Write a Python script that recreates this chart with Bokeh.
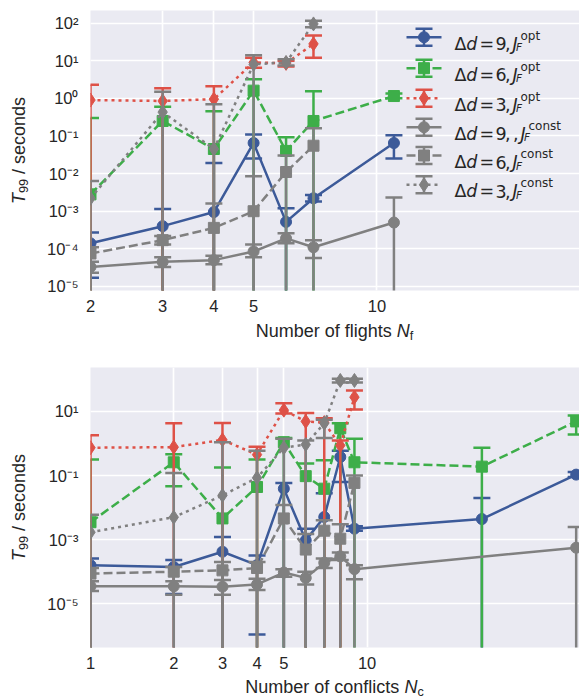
import numpy as np
from bokeh.plotting import figure
from bokeh.layouts import column, row
from bokeh.models import Range1d, LinearScale, FixedTicker, CustomJSTickFormatter, Div
from bokeh.core.properties import value
from bokeh.embed import file_html
from bokeh.resources import INLINE

# ---------------- data: T99 against number of flights ----------------
nf_opt9 = [2, 3, 4, 5, 6, 7, 11]
t_nf_opt9 = [1.4e-4, 4.0e-4, 9.5e-4, 0.065, 5.2e-4, 2.2e-3, 0.065]
hi_nf_opt9 = [2.7e-4, 1.15e-3, 0.019, 0.11, 1.2e-3, 2.7e-3, 0.105]
lo_nf_opt9 = [1.7e-5, 0, 0, 0.025, 0, 1.8e-3, 0.025]

nf_opt6 = [2, 3, 4, 5, 6, 7, 11]
t_nf_opt6 = [2.8e-3, 0.25, 0.045, 1.6, 0.04, 0.25, 1.15]
hi_nf_opt6 = [0.3, 0.6, 0.45, 3.2, 0.093, 1.55, 1.35]
lo_nf_opt6 = [0, 0, 0, 0, 0, 0, 1.0]

nf_opt3 = [2, 3, 4, 5, 6, 7]
t_nf_opt3 = [0.9, 0.85, 0.95, 9.0, 8.5, 28.0]
hi_nf_opt3 = [2.3, 1.85, 2.1, 12.0, 10.0, 47.0]
lo_nf_opt3 = [0, 0, 0, 6.5, 7.0, 12.0]

nf_c9 = [2, 3, 4, 5, 6, 7, 11]
t_nf_c9 = [3.3e-5, 4.5e-5, 5.0e-5, 8.5e-5, 1.9e-4, 1.1e-4, 5.0e-4]
hi_nf_c9 = [4.5e-5, 6.0e-5, 6.5e-5, 1.3e-4, 2.6e-4, 1.7e-4, 2.3e-3]
lo_nf_c9 = [2.3e-5, 3.3e-5, 3.9e-5, 6.0e-5, 1.4e-4, 5.7e-5, 0]

nf_c6 = [2, 3, 4, 5, 6, 7]
t_nf_c6 = [7.5e-5, 1.7e-4, 3.6e-4, 1.0e-3, 0.011, 0.055]
hi_nf_c6 = [1.1e-4, 2.2e-4, 1.6e-3, 8.5e-3, 0.03, 0.16]
lo_nf_c6 = [0, 1.3e-4, 0, 0, 0, 0]

nf_c3 = [2, 3, 4, 5, 6, 7]
t_nf_c3 = [2.2e-3, 0.43, 0.045, 8.0, 9.0, 95.0]
hi_nf_c3 = [6.3e-3, 1.5, 0.7, 14.0, 11.0, 115.0]
lo_nf_c3 = [0, 0, 0, 0, 7.5, 78.0]

# ---------------- data: T99 against number of conflicts ----------------
nc_opt9 = [1, 2, 3, 4, 5, 6, 7, 8, 9, 26, 57]
t_nc_opt9 = [1.6e-4, 1.4e-4, 4.2e-4, 1.6e-4, 0.039, 9.5e-4, 5.1e-3, 0.38, 2.2e-3, 4.4e-3, 0.107]
hi_nc_opt9 = [2.6e-4, 2.3e-4, 1.2e-3, 3.2e-4, 0.059, 2.2e-3, 0.028, 0.6, 2.6e-3, 0.02, 0.13]
lo_nc_opt9 = [0, 2.0e-5, 0, 1.1e-6, 0, 0, 0, 0.063, 1.9e-3, 0, 0.09]

nc_opt6 = [1, 2, 3, 4, 5, 6, 7, 8, 9, 26, 57]
t_nc_opt6 = [3.5e-3, 0.26, 4.6e-3, 0.044, 1.1, 0.096, 0.039, 3.0, 0.26, 0.19, 4.9]
hi_nc_opt6 = [0.32, 0.46, 0.18, 0.32, 1.5, 0.24, 0.3, 4.3, 1.4, 0.74, 7.5]
lo_nc_opt6 = [0, 0.046, 0, 0, 0, 0, 0, 0, 0, 0, 1.9]

nc_opt3 = [1, 2, 3, 4, 5, 6, 7, 8, 9]
t_nc_opt3 = [0.74, 0.77, 1.3, 0.45, 11.0, 4.9, 4.5, 0.87, 28.0]
hi_nc_opt3 = [1.8, 4.3, 4.4, 0.8, 18.0, 9.0, 6.2, 1.25, 45.0]
lo_nc_opt3 = [0, 0, 0, 0, 8.7, 0, 0, 0, 11.5]

nc_c9 = [1, 2, 3, 4, 5, 6, 7, 8, 9, 57]
t_nc_c9 = [3.5e-5, 3.5e-5, 3.4e-5, 4.0e-5, 9.4e-5, 6.4e-5, 1.9e-4, 3.0e-4, 1.2e-4, 5.6e-4]
hi_nc_c9 = [5.0e-5, 5.0e-5, 5.5e-5, 6.0e-5, 1.2e-4, 1.0e-4, 2.6e-4, 4.0e-4, 1.6e-4, 2.5e-3]
lo_nc_c9 = [2.5e-5, 1.9e-5, 1.9e-5, 2.7e-5, 7.0e-5, 4.0e-5, 1.3e-4, 2.3e-4, 5.8e-5, 0]

nc_c6 = [1, 2, 3, 4, 5, 6, 7, 8, 9]
t_nc_c6 = [8.7e-5, 1.0e-4, 1.1e-4, 1.3e-4, 4.6e-3, 4.9e-4, 1.9e-3, 1.07e-3, 0.059]
hi_nc_c6 = [1.3e-4, 1.4e-4, 2.0e-4, 2.0e-4, 0.012, 1.5e-3, 4.0e-3, 3.0e-3, 0.1]
lo_nc_c6 = [0, 0, 0, 0, 0, 0, 0, 0, 0]

nc_c3 = [1, 2, 3, 4, 5, 6, 7, 8, 9]
t_nc_c3 = [1.7e-3, 5.0e-3, 0.024, 0.085, 0.74, 0.93, 4.3, 93.0, 93.0]
hi_nc_c3 = [6.0e-3, 0.12, 1.1, 0.6, 1.4, 1.25, 5.5, 105.0, 105.0]
lo_nc_c3 = [0, 0, 0, 0, 0, 0, 1.5, 80.0, 80.0]

# axis ticks
nf_ticks = [2, 3, 4, 5, 10]
nf_t_ticks = [1e-5, 1e-4, 1e-3, 1e-2, 1e-1, 1e0, 1e1, 1e2]
nc_ticks = [1, 2, 3, 4, 5, 10]
nc_t_ticks = [1e-5, 1e-3, 1e-1, 1e1]

# legend text
legend_dd = ["9", "6", "3", "9", "6", "3"]
legend_sup = ["opt", "opt", "opt", "const", "const", "const"]
legend_extra_comma = [False, False, False, True, False, False]

# ---------------- styling ----------------
W = 579
YLAB_W = 40           # strip holding the rotated y label
FIG_W = W - YLAB_W
BORDER_L = 50
FRAME_W = FIG_W - BORDER_L
FRAME_H = 280
FIG_H = 10 + FRAME_H + 32
BG = "#EAEAF2"
INK = "#262626"
SANS = "Liberation Sans"
MATH = "DejaVu Sans"
BLUE, GREEN, RED, GRAY = "#3C5A99", "#3DAE49", "#DE5147", "#808080"
LW = 2.5
CAP = 17
DASHES = {"solid": "solid", "dashed": "9 4", "dotted": "3 4"}
MSIZE = {"circle": 11, "square": 11, "diamond": 14}

STYLES = [
    (BLUE, "circle", "solid"),
    (GREEN, "square", "dashed"),
    (RED, "diamond", "dotted"),
    (GRAY, "circle", "solid"),
    (GRAY, "square", "dashed"),
    (GRAY, "diamond", "dotted"),
]

top_series = [
    (nf_opt9, t_nf_opt9, hi_nf_opt9, lo_nf_opt9),
    (nf_opt6, t_nf_opt6, hi_nf_opt6, lo_nf_opt6),
    (nf_opt3, t_nf_opt3, hi_nf_opt3, lo_nf_opt3),
    (nf_c9, t_nf_c9, hi_nf_c9, lo_nf_c9),
    (nf_c6, t_nf_c6, hi_nf_c6, lo_nf_c6),
    (nf_c3, t_nf_c3, hi_nf_c3, lo_nf_c3),
]
bottom_series = [
    (nc_opt9, t_nc_opt9, hi_nc_opt9, lo_nc_opt9),
    (nc_opt6, t_nc_opt6, hi_nc_opt6, lo_nc_opt6),
    (nc_opt3, t_nc_opt3, hi_nc_opt3, lo_nc_opt3),
    (nc_c9, t_nc_c9, hi_nc_c9, lo_nc_c9),
    (nc_c6, t_nc_c6, hi_nc_c6, lo_nc_c6),
    (nc_c3, t_nc_c3, hi_nc_c3, lo_nc_c3),
]

pow10_fmt = CustomJSTickFormatter(code="""
const sup = {"-": "⁻", "0": "⁰", "1": "¹", "2": "²", "3": "³", "4": "⁴",
             "5": "⁵", "6": "⁶", "7": "⁷", "8": "⁸", "9": "⁹"};
const e = Math.round(Math.log10(tick));
return "10" + String(e).split("").map(c => sup[c]).join("");
""")
int_fmt = CustomJSTickFormatter(code="return String(Math.round(tick));")


def make_panel(xr, yr, xticks, yticks):
    p = figure(width=FIG_W, height=FIG_H, x_axis_type="log", y_axis_type="log",
               x_range=Range1d(*xr), y_range=Range1d(*yr),
               output_backend="svg", toolbar_location=None,
               min_border_left=BORDER_L, min_border_right=0, min_border_top=10,
               min_border_bottom=FIG_H - 10 - FRAME_H,
               background_fill_color=BG, border_fill_color="white",
               outline_line_color=None)
    p.xaxis.ticker = FixedTicker(ticks=xticks, minor_ticks=[])
    p.yaxis.ticker = FixedTicker(ticks=yticks, minor_ticks=[])
    p.xaxis.formatter = int_fmt
    p.yaxis.formatter = pow10_fmt
    for ax in p.axis:
        ax.axis_line_color = None
        ax.major_tick_line_color = None
        ax.minor_tick_line_color = None
        ax.major_tick_out = 0
        ax.major_tick_in = 0
        ax.minor_tick_out = 0
        ax.major_label_text_font = SANS
        ax.major_label_text_font_size = "16.5px"
        ax.major_label_text_color = INK
    p.xaxis.major_label_standoff = 9
    p.yaxis.major_label_standoff = 12
    p.grid.grid_line_color = "white"
    p.grid.grid_line_width = 1.7
    # frame-pixel coordinates for the legend
    p.extra_x_ranges = {"fx": Range1d(0, FRAME_W)}
    p.extra_y_ranges = {"fy": Range1d(0, FRAME_H)}
    p.extra_x_scales = {"fx": LinearScale()}
    p.extra_y_scales = {"fy": LinearScale()}
    return p


def draw_series(p, x, t, hi, lo, style, floor):
    color, marker, dash = style
    x = list(x)
    lo_bar = [l if l > 0 else floor for l in lo]
    p.segment(x0=x, y0=lo_bar, x1=x, y1=list(hi), line_color=color, line_width=LW)
    cap_x = x + [xi for xi, l in zip(x, lo) if l > 0]
    cap_y = list(hi) + [l for l in lo if l > 0]
    p.scatter(cap_x, cap_y, marker="dash", size=CAP, line_color=color, line_width=LW)
    p.line(x, list(t), line_color=color, line_width=LW, line_dash=DASHES[dash])
    p.scatter(x, list(t), marker=marker, size=MSIZE[marker], fill_color=color,
              line_color=color, line_width=1)


def y_label_div():
    html = (
        f'<div style="margin-top:10px; margin-left:10px; height:{FRAME_H}px; '
        f'writing-mode:vertical-rl; transform:rotate(180deg); text-align:center; '
        f'font-family:\'{SANS}\'; font-size:18px; line-height:18px; color:{INK}; '
        f'white-space:nowrap;">'
        '<i>T</i><sub style="font-size:12.6px; line-height:0;">99</sub> / seconds</div>'
    )
    return Div(text=html, width=YLAB_W, height=FIG_H, margin=0)


def x_label_div(main, sub, height, shift):
    html = (
        f'<div style="margin-left:{YLAB_W + BORDER_L}px; margin-top:{shift}px; '
        f'width:{FRAME_W}px; text-align:center; font-family:\'{SANS}\'; '
        f'font-size:18px; line-height:18px; color:{INK}; white-space:nowrap;">'
        f'{main}<i>N</i><sub style="font-size:12.6px; line-height:0; '
        f'vertical-align:-2.5px;">{sub}</sub></div>'
    )
    return Div(text=html, width=W, height=height, margin=0)


# ---------------- top panel: flights ----------------
top = make_panel((2, 31.2), (7.8e-6, 216), nf_ticks, nf_t_ticks)
for s, st in zip(top_series, STYLES):
    draw_series(top, *s, st, 1e-9)

# legend (frame pixel coordinates, y up from the frame bottom)
LEG_Y = [253.3, 222.3, 192.3, 163.3, 135.0, 105.7]
HX0, HX1, HXM, TX = 316, 351, 333.5, 364
kw = dict(x_range_name="fx", y_range_name="fy")
txt = dict(text_color=INK, text_baseline="alphabetic", text_align="left", **kw)
for yy, st, dd, sup, comma in zip(LEG_Y, STYLES, legend_dd, legend_sup, legend_extra_comma):
    color, marker, dash = st
    top.segment(x0=[HXM], y0=[yy - 8.5], x1=[HXM], y1=[yy + 8.5], line_color=color,
                line_width=LW, **kw)
    top.scatter([HXM, HXM], [yy - 8.5, yy + 8.5], marker="dash", size=CAP,
                line_color=color, line_width=LW, **kw)
    top.line([HX0, HX1], [yy, yy], line_color=color, line_width=LW,
             line_dash=DASHES[dash], **kw)
    top.scatter([HXM], [yy], marker=marker, size=MSIZE[marker], fill_color=color,
                line_color=color, **kw)
    base = yy - 6.6
    jx = 58 + (8 if comma else 0)
    up_txt = ["Δ", "=", dd, ","] + ([","] if comma else [])
    up_x = [0, 25, 41, 50.5] + ([58.5] if comma else [])
    top.text(x=[TX + v for v in up_x], y=[base] * len(up_x), text=up_txt,
             text_font=value(MATH), text_font_size=value("17.5px"), **txt)
    top.text(x=[TX + 11.8, TX + jx], y=[base, base], text=["d", "J"],
             text_font=value(MATH), text_font_size=value("17.5px"),
             text_font_style=value("italic"), **txt)
    top.text(x=[TX + jx + 3.5], y=[base - 3.5], text=["F"],
             text_font=value(MATH), text_font_size=value("10.5px"),
             text_font_style=value("italic"), **txt)
    top.text(x=[TX + jx + 8], y=[base + 8.3], text=[sup],
             text_font=value(MATH), text_font_size=value("12px"), **txt)

# ---------------- bottom panel: conflicts ----------------
bottom = make_panel((1, 58.6), (4.3e-7, 236), nc_ticks, nc_t_ticks)
for s, st in zip(bottom_series, STYLES):
    draw_series(bottom, *s, st, 1e-10)

layout = column(
    row(y_label_div(), top, spacing=0),
    x_label_div("Number of flights ", "f", 357 - FIG_H, 0),
    row(y_label_div(), bottom, spacing=0),
    x_label_div("Number of conflicts ", "c", 698 - 357 - FIG_H, -1.5),
    spacing=0,
)
open("out.html", "w").write(file_html(layout, INLINE))
